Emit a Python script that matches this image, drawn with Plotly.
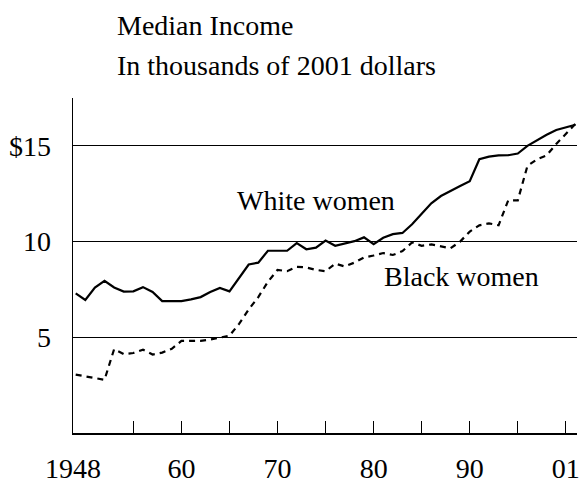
import plotly.graph_objects as go

years = list(range(1949, 2002))

white_women = [7.29, 6.95, 7.6, 7.95, 7.6, 7.39, 7.4, 7.62, 7.37, 6.89,
               6.89, 6.89, 6.98, 7.1, 7.36, 7.58, 7.4, 8.1, 8.8, 8.9,
               9.52, 9.52, 9.52, 9.92, 9.6, 9.68, 10.05, 9.78, 9.9, 10.02,
               10.22, 9.87, 10.2, 10.39, 10.45, 10.9, 11.45, 12.0, 12.38, 12.66,
               12.9, 13.15, 14.3, 14.44, 14.5, 14.51, 14.6, 15.0, 15.3, 15.58,
               15.83, 15.96, 16.1]

black_women = [3.05, 2.95, 2.85, 2.78, 4.38, 4.12, 4.18, 4.35, 4.1, 4.2,
               4.4, 4.81, 4.81, 4.81, 4.88, 4.98, 5.08, 5.7, 6.45, 7.1,
               7.9, 8.52, 8.45, 8.68, 8.65, 8.52, 8.45, 8.85, 8.7, 8.9,
               9.17, 9.27, 9.4, 9.3, 9.5, 9.95, 9.78, 9.85, 9.75, 9.65,
               10.0, 10.52, 10.85, 10.95, 10.85, 12.15, 12.15, 13.95, 14.3, 14.5,
               15.1, 15.65, 16.15]

x_range = [1948.72, 2001.16]
x_label_vals = [1948.72, 1960, 1970, 1980, 1990, 2000]
x_label_text = ["1948", "60", "70", "80", "90", "01"]
x_minor_ticks = [1955, 1965, 1975, 1985, 1995]

y_tick_vals = [5, 10, 15]
y_tick_text = ["5", "10", "$15"]

FONT = "Liberation Serif, Times New Roman, serif"

fig = go.Figure()
fig.add_trace(go.Scatter(x=years, y=white_women, mode="lines",
                         line=dict(color="black", width=2.2),
                         showlegend=False, hoverinfo="skip", cliponaxis=False))
fig.add_trace(go.Scatter(x=years, y=black_women, mode="lines",
                         line=dict(color="black", width=2.2, dash="6px,5px"),
                         showlegend=False, hoverinfo="skip", cliponaxis=False))

fig.update_layout(
    width=579, height=483,
    margin=dict(l=73, r=2, t=98, b=50),
    paper_bgcolor="white", plot_bgcolor="white",
    font=dict(family=FONT, size=28, color="black"),
    xaxis=dict(range=x_range, showgrid=False, zeroline=False, automargin=False,
               showline=True, linecolor="black", linewidth=1.5,
               tickmode="array", tickvals=x_label_vals, ticktext=x_label_text,
               ticks="inside", ticklen=12, tickwidth=1, tickcolor="black",
               ticklabelstandoff=10, ticklabeloverflow="allow",
               minor=dict(tickmode="array", tickvals=x_minor_ticks,
                          ticks="inside", ticklen=12, tickwidth=1,
                          tickcolor="black", showgrid=False),
               tickfont=dict(family=FONT, size=28, color="black")),
    yaxis=dict(range=[0, 17.5], showgrid=True, gridcolor="black", gridwidth=1,
               zeroline=False, showline=True, linecolor="black", linewidth=1.5,
               automargin=False,
               tickmode="array", tickvals=y_tick_vals, ticktext=y_tick_text,
               ticks="", ticklabelstandoff=15,
               tickfont=dict(family=FONT, size=28, color="black")),
    annotations=[
        dict(text="Median Income", xref="paper", yref="paper",
             x=0.083, y=1.217, xanchor="left", yanchor="middle",
             showarrow=False, font=dict(family=FONT, size=28)),
        dict(text="In thousands of 2001 dollars", xref="paper", yref="paper",
             x=0.083, y=1.098, xanchor="left", yanchor="middle",
             showarrow=False, font=dict(family=FONT, size=28)),
        dict(text="White women", xref="x", yref="y",
             x=1965.56, y=12.12, xanchor="left", yanchor="middle",
             showarrow=False, font=dict(family=FONT, size=28)),
        dict(text="Black women", xref="x", yref="y",
             x=1980.84, y=8.17, xanchor="left", yanchor="middle",
             showarrow=False, font=dict(family=FONT, size=28)),
    ],
)

fig.write_html("out.html",
               config={"displayModeBar": False, "staticPlot": True},
               post_script="document.body.style.margin='0';"
                           "document.body.style.overflow='hidden';")
